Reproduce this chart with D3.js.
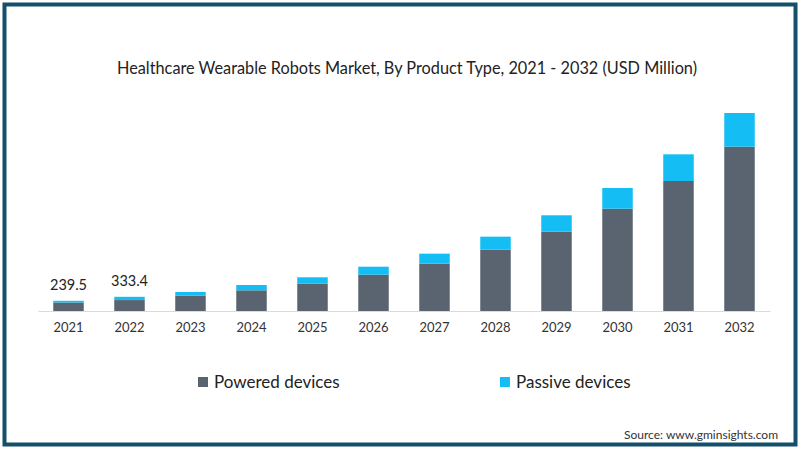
<!DOCTYPE html>
<html>
<head>
<meta charset="utf-8">
<script src="https://cdn.jsdelivr.net/npm/d3@7/dist/d3.min.js"></script>
<style>
  html, body { margin: 0; padding: 0; background: #fff; }
  svg { display: block; }
  text { font-family: Lato, "Open Sans", sans-serif; }
</style>
</head>
<body>
<svg id="chart" width="800" height="450"></svg>
<script>
const years = ["2021","2022","2023","2024","2025","2026","2027","2028","2029","2030","2031","2032"];
const powered = [200, 257, 360, 486, 642, 853, 1112, 1441, 1864, 2404, 3055, 3861];
const passive = [39.5, 76.4, 87, 125, 150, 188, 235, 306, 385, 486, 627, 792];
const valueLabels = ["239.5", "333.4", "", "", "", "", "", "", "", "", "", ""];
const seriesNames = ["Powered devices", "Passive devices"];
const colors = ["#5a6470", "#14bdf3"];

const svg = d3.select("#chart");

// frame
svg.append("rect").attr("x", 4.5).attr("y", 4.5).attr("width", 791).attr("height", 440)
  .attr("fill", "#fff").attr("stroke", "#154f6c").attr("stroke-width", 4);

// title
svg.append("text").attr("x", 407).attr("y", 74).attr("text-anchor", "middle")
  .attr("font-size", 17).attr("fill", "#222")
  .attr("font-family", "'Open Sans', sans-serif")
  .attr("textLength", 580).attr("lengthAdjust", "spacingAndGlyphs")
  .text("Healthcare Wearable Robots Market, By Product Type, 2021 - 2032 (USD Million)");

const x = d3.scaleBand().domain(years).range([38, 770]).paddingInner(0.5).paddingOuter(0.25);
const y = d3.scaleLinear().domain([0, 4700]).range([311, 111]);

const data = years.map((yr, i) => ({ year: yr, powered: powered[i], passive: passive[i], label: valueLabels[i] }));
const stack = d3.stack().keys(["powered", "passive"])(data);

svg.append("g").selectAll("g").data(stack).join("g")
  .attr("fill", (d, i) => colors[i])
  .selectAll("rect").data(d => d).join("rect")
  .attr("x", d => x(d.data.year))
  .attr("width", x.bandwidth())
  .attr("y", d => y(d[1]))
  .attr("height", d => y(d[0]) - y(d[1]));

// baseline axis
const axis = svg.append("g").attr("transform", "translate(0,311)")
  .call(d3.axisBottom(x).tickSize(0).tickPadding(12));
axis.select(".domain").attr("stroke", "#d8dadd").attr("stroke-width", 1);
axis.selectAll("text").attr("font-size", 13).attr("fill", "#333")
  .attr("font-family", "'Open Sans', sans-serif");

// value labels
svg.append("g").selectAll("text").data(data.filter(d => d.label)).join("text")
  .attr("x", d => x(d.year) + x.bandwidth() / 2)
  .attr("y", d => y(d.powered + d.passive) - 11)
  .attr("text-anchor", "middle").attr("font-size", 14.5).attr("fill", "#222")
  .attr("font-family", "'Open Sans', sans-serif")
  .text(d => d.label);

// legend
const legendX = [198, 500];
const lg = svg.append("g").selectAll("g").data(seriesNames).join("g")
  .attr("transform", (d, i) => `translate(${legendX[i]},377)`);
lg.append("rect").attr("width", 10).attr("height", 10).attr("fill", (d, i) => colors[i]);
lg.append("text").attr("x", 16).attr("y", 11).attr("font-size", 17).attr("fill", "#222").text(d => d);

// source
svg.append("text").attr("x", 778).attr("y", 439).attr("text-anchor", "end")
  .attr("font-size", 12).attr("fill", "#333").text("Source: www.gminsights.com");
</script>
</body>
</html>
